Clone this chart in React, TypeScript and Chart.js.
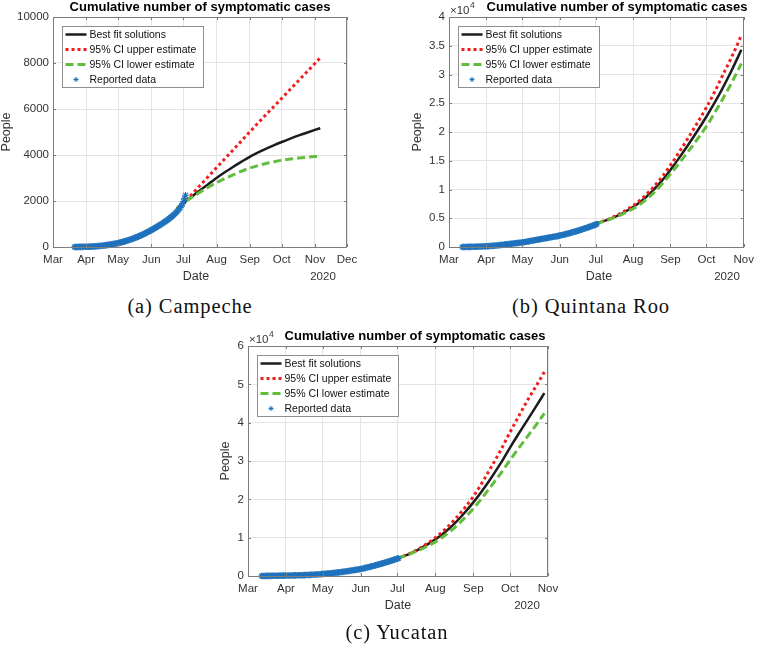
import React, { useEffect, useRef } from 'react';
import { Chart, registerables } from 'chart.js';

Chart.register(...registerables);

// ---------- shared axis data ----------
const MONTH_LABELS = ['Mar', 'Apr', 'May', 'Jun', 'Jul', 'Aug', 'Sep', 'Oct', 'Nov', 'Dec'];
// days since 1 March 2020
const MONTH_DAYS = [0, 31, 61, 92, 122, 153, 184, 214, 245, 275];
const SERIES_NAMES = ['Best fit solutions', '95% CI upper estimate', '95% CI lower estimate', 'Reported data'];
const TITLE = 'Cumulative number of symptomatic cases';

// ---------- (a) Campeche ----------
const A_REPORTED_START = 20;
const A_REPORTED = [
  1, 1, 2, 3, 4, 5, 5, 6, 7, 8, 9, 10,
  11, 13, 15, 17, 19, 22, 25, 28, 31, 35, 39, 43, 47, 52, 57, 62, 68, 74, 80, 87, 94, 101, 109, 117, 125, 134, 143, 152, 162,
  172, 183, 194, 206, 218, 231, 244, 258, 272, 287, 302, 318, 334, 351, 368, 386, 404, 423, 442, 462, 482, 503, 524, 546, 568, 591, 614, 638, 662, 687, 712,
  737, 763, 789, 816, 843, 871, 899, 928, 957, 987, 1017, 1048, 1079, 1111, 1143, 1176, 1210, 1245, 1281, 1318, 1357, 1398, 1441, 1487, 1537, 1592, 1652, 1718, 1790, 1870,
  1980, 2110, 2250,
];
const A_MODEL_DAYS = [116, 122, 129, 136, 143, 153, 160, 168, 176, 184, 192, 200, 207, 214, 222, 230, 238, 245, 250];
const A_BEST = [1680, 1900, 2160, 2410, 2655, 3000, 3225, 3470, 3700, 3920, 4110, 4285, 4430, 4565, 4710, 4850, 4980, 5090, 5165];
const A_UPPER = [1680, 1900, 2250, 2600, 2950, 3450, 3800, 4200, 4600, 5000, 5400, 5790, 6130, 6470, 6860, 7250, 7640, 7980, 8230];
const A_LOWER = [1680, 1900, 2130, 2340, 2540, 2800, 2960, 3130, 3290, 3430, 3545, 3640, 3710, 3770, 3825, 3870, 3905, 3930, 3945];

// ---------- (b) Quintana Roo ----------
const B_REPORTED_START = 11;
const B_REPORTED = [
  5, 8, 10, 13, 16, 20, 24, 29, 34, 40, 46, 53, 60, 67, 74, 82, 90, 98, 106, 114,
  122, 136, 151, 167, 184, 202, 221, 241, 262, 284, 306, 329, 352, 376, 400, 424, 448, 473, 498, 523, 548, 573, 598, 623, 648, 673, 697, 721, 745, 769,
  793, 830, 868, 906, 944, 982, 1020, 1058, 1096, 1134, 1172, 1210, 1248, 1286, 1324, 1362, 1400, 1438, 1476, 1514, 1552, 1590, 1628, 1666, 1704, 1742, 1780, 1818, 1856, 1894, 1932,
  1975, 2025, 2076, 2128, 2181, 2235, 2290, 2346, 2403, 2461, 2520, 2580, 2641, 2703, 2766, 2830, 2895, 2961, 3028, 3096, 3165, 3235, 3306, 3378, 3451, 3525, 3600, 3676, 3753, 3831,
  3910, 3990,
];
const B_MODEL_DAYS = [122, 130, 138, 146, 153, 161, 169, 177, 184, 191, 198, 206, 214, 221, 227, 235, 243];
const B_BEST = [4100, 4590, 5250, 6090, 6950, 8180, 9710, 11540, 13400, 15410, 17520, 20040, 22700, 25180, 27470, 30750, 34300];
const B_UPPER = [4100, 4640, 5360, 6270, 7190, 8550, 10200, 12170, 14200, 16410, 18710, 21440, 24290, 27070, 29670, 33060, 36800];
const B_LOWER = [4100, 4540, 5150, 5910, 6640, 7770, 9210, 10940, 12700, 14490, 16380, 18640, 21000, 23420, 25550, 28600, 31900];

// ---------- (c) Yucatan ----------
const C_REPORTED_START = 11;
const C_REPORTED = [
  5, 8, 12, 16, 21, 26, 32, 38, 44, 50, 56, 62, 68, 74, 80, 86, 92, 98, 104, 110,
  116, 122, 128, 134, 141, 148, 155, 162, 170, 178, 186, 195, 204, 214, 225, 236, 248, 261, 275, 290, 306, 323, 341, 360, 380, 401, 423, 446, 470, 495,
  521, 548, 576, 605, 635, 666, 698, 731, 765, 800, 836, 873, 911, 950, 990, 1031, 1073, 1116, 1160, 1205, 1251, 1298, 1346, 1395, 1445, 1496, 1548, 1601, 1655, 1710, 1766,
  1830, 1900, 1975, 2050, 2125, 2200, 2280, 2360, 2440, 2520, 2605, 2690, 2775, 2860, 2950, 3040, 3130, 3220, 3315, 3410, 3505, 3600, 3700, 3800, 3900, 4000, 4105, 4210, 4315, 4420,
  4530, 4640,
];
const C_MODEL_DAYS = [122, 130, 138, 146, 153, 161, 169, 176, 184, 191, 198, 206, 214, 221, 228, 235, 242];
const C_BEST = [4600, 5520, 6700, 8110, 9550, 11500, 13820, 16170, 19200, 22130, 25300, 29230, 33500, 37100, 40600, 44100, 47700];
const C_UPPER = [4600, 5580, 6830, 8390, 10000, 12190, 14790, 17380, 20740, 24230, 28080, 32590, 37520, 41630, 45680, 49390, 53190];
const C_LOWER = [4600, 5440, 6500, 7700, 8900, 10640, 12710, 14840, 17610, 20310, 23230, 26600, 30220, 33320, 36300, 39290, 42400];

// ---------- styles ----------
const FONT = '"Liberation Sans", Arial, Helvetica, sans-serif';
const AXIS = '#7d7d7d';
const GRID = '#e4e4e4';
const TEXT = '#333333';
const C_BLACK = '#1c1c1c';
const C_RED = '#f21d1d';
const C_GREEN = '#62bd3c';
const C_BLUE = '#1f72bd';

type Spec = {
  key: string;
  caption: string;
  repStart: number;
  rep: number[];
  modelDays: number[];
  best: number[];
  upper: number[];
  lower: number[];
  xMax: number;
  yMax: number;
  yStep: number;
  div: number;
  left: number; top: number; w: number; h: number;
  plot: [number, number, number, number];
  titleX: number; titleY: number;
  expPos: [number, number] | null;
  peopleX: number;
  dateX: number; dateY: number;
  yearX: number;
  capX: number; capY: number;
};

const SPECS: Spec[] = [
  {
    key: 'a', caption: '(a) Campeche',
    repStart: A_REPORTED_START, rep: A_REPORTED,
    modelDays: A_MODEL_DAYS, best: A_BEST, upper: A_UPPER, lower: A_LOWER,
    xMax: 275, yMax: 10000, yStep: 2000, div: 1,
    left: 0, top: 0, w: 380, h: 290, plot: [53, 17, 347, 247],
    titleX: 200, titleY: 6, expPos: null, peopleX: 7,
    dateX: 196, dateY: 277, yearX: 323, capX: 190, capY: 306,
  },
  {
    key: 'b', caption: '(b) Quintana Roo',
    repStart: B_REPORTED_START, rep: B_REPORTED,
    modelDays: B_MODEL_DAYS, best: B_BEST, upper: B_UPPER, lower: B_LOWER,
    xMax: 245, yMax: 40000, yStep: 5000, div: 10000,
    left: 380, top: 0, w: 380, h: 290, plot: [449, 17, 748, 247],
    titleX: 617, titleY: 6, expPos: [450, 10], peopleX: 418,
    dateX: 599, dateY: 277, yearX: 727, capX: 591, capY: 306,
  },
  {
    key: 'c', caption: '(c) Yucatan',
    repStart: C_REPORTED_START, rep: C_REPORTED,
    modelDays: C_MODEL_DAYS, best: C_BEST, upper: C_UPPER, lower: C_LOWER,
    xMax: 245, yMax: 60000, yStep: 10000, div: 10000,
    left: 190, top: 322, w: 380, h: 300, plot: [248, 346, 548, 576],
    titleX: 415, titleY: 335, expPos: [249, 339], peopleX: 226,
    dateX: 398, dateY: 606, yearX: 527, capX: 397, capY: 632,
  },
];

const Y_W = 40;
const X_H = 20;

function drawStar(ctx: CanvasRenderingContext2D, x: number, y: number, r: number) {
  ctx.beginPath();
  ctx.moveTo(x - r, y); ctx.lineTo(x + r, y);
  ctx.moveTo(x, y - r); ctx.lineTo(x, y + r);
  const d = r * 0.7071;
  ctx.moveTo(x - d, y - d); ctx.lineTo(x + d, y + d);
  ctx.moveTo(x - d, y + d); ctx.lineTo(x + d, y - d);
  ctx.stroke();
}

function decorPlugin(s: Spec) {
  return {
    id: 'decor_' + s.key,
    afterDraw(chart: any) {
      const ctx: CanvasRenderingContext2D = chart.ctx;
      const a = chart.chartArea;
      const xs = chart.scales.x;
      const ys = chart.scales.y;
      const ox = s.left, oy = s.top;
      ctx.save();

      // inward tick marks + box
      ctx.strokeStyle = AXIS;
      ctx.lineWidth = 1;
      ctx.setLineDash([]);
      ctx.beginPath();
      xs.ticks.forEach((t: any) => {
        const px = Math.round(xs.getPixelForValue(t.value)) + 0.5;
        ctx.moveTo(px, a.bottom); ctx.lineTo(px, a.bottom - 3);
        ctx.moveTo(px, a.top); ctx.lineTo(px, a.top + 3);
      });
      ys.ticks.forEach((t: any) => {
        const py = Math.round(ys.getPixelForValue(t.value)) + 0.5;
        ctx.moveTo(a.left, py); ctx.lineTo(a.left + 3, py);
        ctx.moveTo(a.right, py); ctx.lineTo(a.right - 3, py);
      });
      ctx.stroke();
      ctx.strokeRect(Math.round(a.left) + 0.5, Math.round(a.top) + 0.5, Math.round(a.right - a.left) - 1, Math.round(a.bottom - a.top));

      // legend
      const lx = Math.round(a.left) + 9.5, ly = Math.round(a.top) + 9.5, lw = 141, lh = 61;
      ctx.fillStyle = '#ffffff';
      ctx.fillRect(lx, ly, lw, lh);
      ctx.strokeStyle = '#8f8f8f';
      ctx.lineWidth = 1;
      ctx.strokeRect(lx, ly, lw, lh);
      const rowY = (i: number) => ly + 8 + i * 15;
      const sx1 = lx + 3, sx2 = lx + 24;
      ctx.lineCap = 'butt';
      ctx.strokeStyle = C_BLACK; ctx.lineWidth = 2.5; ctx.setLineDash([]);
      ctx.beginPath(); ctx.moveTo(sx1, rowY(0)); ctx.lineTo(sx2, rowY(0)); ctx.stroke();
      ctx.strokeStyle = C_RED; ctx.lineWidth = 3; ctx.setLineDash([3, 3]);
      ctx.beginPath(); ctx.moveTo(sx1, rowY(1)); ctx.lineTo(sx2, rowY(1)); ctx.stroke();
      ctx.strokeStyle = C_GREEN; ctx.lineWidth = 3; ctx.setLineDash([8, 4]);
      ctx.beginPath(); ctx.moveTo(sx1, rowY(2)); ctx.lineTo(sx2 + 1, rowY(2)); ctx.stroke();
      ctx.setLineDash([]);
      ctx.strokeStyle = C_BLUE; ctx.lineWidth = 1;
      drawStar(ctx, (sx1 + sx2) / 2, rowY(3), 2.5);
      ctx.fillStyle = '#111111';
      ctx.font = '10.5px ' + FONT;
      ctx.textAlign = 'left';
      ctx.textBaseline = 'middle';
      SERIES_NAMES.forEach((n, i) => ctx.fillText(n, lx + 27, rowY(i) + 0.5));

      // title
      ctx.fillStyle = '#000000';
      ctx.font = 'bold 13px ' + FONT;
      ctx.textAlign = 'center';
      ctx.textBaseline = 'middle';
      ctx.fillText(TITLE, s.titleX - ox, s.titleY - oy + 1);

      // exponent label
      if (s.expPos) {
        ctx.fillStyle = TEXT;
        ctx.font = '11.5px ' + FONT;
        ctx.textAlign = 'left';
        const ex = s.expPos[0] - ox, ey = s.expPos[1] - oy;
        ctx.fillText('\u00d710', ex, ey + 1);
        const wv = ctx.measureText('\u00d710').width;
        ctx.font = '8.5px ' + FONT;
        ctx.fillText('4', ex + wv + 0.5, ey - 4);
      }

      // axis labels
      ctx.fillStyle = TEXT;
      ctx.font = '12.5px ' + FONT;
      ctx.textAlign = 'center';
      ctx.textBaseline = 'middle';
      ctx.fillText('Date', s.dateX - ox, s.dateY - oy);
      ctx.font = '11.5px ' + FONT;
      ctx.fillText('2020', s.yearX - ox, s.dateY - oy);
      ctx.save();
      ctx.translate(s.peopleX - ox, (a.top + a.bottom) / 2);
      ctx.rotate(-Math.PI / 2);
      ctx.font = '12.5px ' + FONT;
      ctx.fillText('People', 0, 0);
      ctx.restore();

      ctx.restore();
    },
  };
}

function makeConfig(s: Spec): any {
  const [pl, pt, pr, pb] = s.plot;
  const reported = s.rep.map((v, i) => ({ x: s.repStart + i, y: v }));
  const mk = (arr: number[]) => s.modelDays.map((d, i) => ({ x: d, y: arr[i] }));
  return {
    type: 'line',
    data: {
      datasets: [
        {
          label: SERIES_NAMES[3], data: reported, showLine: false, order: 0,
          pointStyle: 'star', pointRadius: 3.3, pointBorderWidth: 1.1,
          borderColor: C_BLUE, backgroundColor: C_BLUE, pointBorderColor: C_BLUE, clip: false,
        },
        {
          label: SERIES_NAMES[2], data: mk(s.lower), order: 1, borderColor: C_GREEN, borderWidth: 3,
          borderDash: [8, 4], pointRadius: 0, cubicInterpolationMode: 'monotone', fill: false,
        },
        {
          label: SERIES_NAMES[1], data: mk(s.upper), order: 2, borderColor: C_RED, borderWidth: 3,
          borderDash: [3, 3], pointRadius: 0, cubicInterpolationMode: 'monotone', fill: false,
        },
        {
          label: SERIES_NAMES[0], data: mk(s.best), order: 3, borderColor: C_BLACK, borderWidth: 2.5,
          pointRadius: 0, cubicInterpolationMode: 'monotone', fill: false,
        },
      ],
    },
    options: {
      animation: false,
      responsive: false,
      devicePixelRatio: 1,
      events: [],
      layout: {
        padding: {
          left: pl - s.left - Y_W,
          top: pt - s.top,
          right: s.left + s.w - pr,
          bottom: s.top + s.h - pb - X_H,
        },
      },
      plugins: { legend: { display: false }, tooltip: { enabled: false }, title: { display: false } },
      scales: {
        x: {
          type: 'linear', min: 0, max: s.xMax,
          afterBuildTicks: (scale: any) => {
            scale.ticks = MONTH_DAYS.filter((d) => d <= s.xMax).map((v) => ({ value: v }));
          },
          afterFit: (scale: any) => { scale.height = X_H; },
          ticks: {
            autoSkip: false, maxRotation: 0, minRotation: 0, padding: 6, color: TEXT,
            font: { family: FONT, size: 11.5 },
            callback: (v: number) => {
              const i = MONTH_DAYS.indexOf(v);
              return i >= 0 ? MONTH_LABELS[i] : '';
            },
          },
          grid: { color: GRID, drawTicks: false, lineWidth: 1 },
          border: { display: false },
        },
        y: {
          type: 'linear', min: 0, max: s.yMax,
          afterFit: (scale: any) => { scale.width = Y_W; },
          ticks: {
            stepSize: s.yStep, padding: 4, color: TEXT,
            font: { family: FONT, size: 11.5 },
            callback: (v: number) => String(Math.round((v / s.div) * 100) / 100),
          },
          grid: { color: GRID, drawTicks: false, lineWidth: 1 },
          border: { display: false },
        },
      },
    },
    plugins: [decorPlugin(s)],
  };
}

function Panel({ spec }: { spec: Spec }) {
  const ref = useRef<HTMLCanvasElement | null>(null);
  useEffect(() => {
    if (!ref.current) return;
    const chart = new Chart(ref.current, makeConfig(spec));
    return () => chart.destroy();
  }, [spec]);
  return (
    <canvas
      ref={ref}
      width={spec.w}
      height={spec.h}
      style={{ position: 'absolute', left: spec.left, top: spec.top, width: spec.w, height: spec.h, display: 'block' }}
    />
  );
}

export default function App() {
  return (
    <div style={{ position: 'absolute', left: 0, top: 0, width: 760, height: 649, background: '#ffffff', overflow: 'hidden' }}>
      {SPECS.map((s) => (
        <Panel key={s.key} spec={s} />
      ))}
      {SPECS.map((s) => (
        <div
          key={'cap' + s.key}
          style={{
            position: 'absolute', left: s.capX - 150, top: s.capY - 13, width: 300, height: 26,
            textAlign: 'center', lineHeight: '26px', fontFamily: '"Liberation Serif", "Times New Roman", serif',
            fontSize: 20.5, letterSpacing: '0.9px', color: '#111111', whiteSpace: 'nowrap',
          }}
        >
          {s.caption}
        </div>
      ))}
    </div>
  );
}
